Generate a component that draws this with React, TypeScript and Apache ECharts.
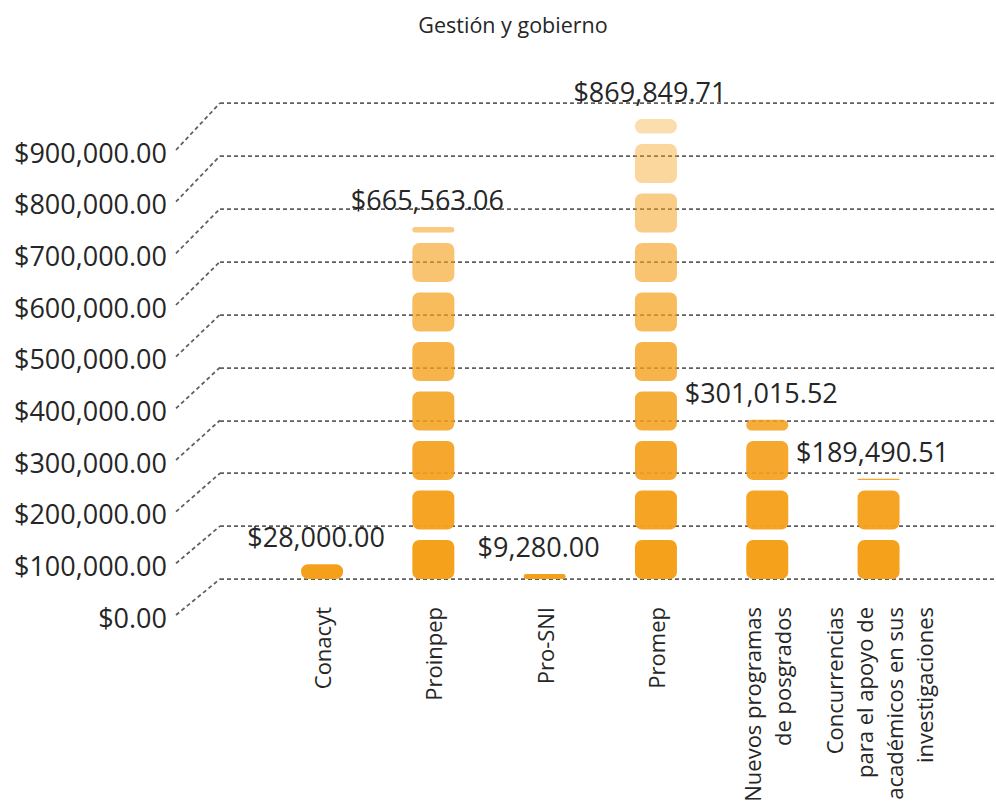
import React, { useEffect, useRef } from 'react';
import * as echarts from 'echarts';

const TITLE = 'Gestión y gobierno';
const categories = [
  'Conacyt',
  'Proinpep',
  'Pro-SNI',
  'Promep',
  'Nuevos programas\nde posgrados',
  'Concurrencias\npara el apoyo de\nacadémicos en sus\ninvestigaciones',
];
const amounts = [28000.0, 665563.06, 9280.0, 869849.71, 301015.52, 189490.51];
const axisMin = 0;
const axisMax = 900000;
const axisStep = 100000;

const FONT = "'Open Sans', 'Noto Sans', sans-serif";
const TEXT = '#262626';
const ORANGE = [245, 160, 26];
const BLOCK_W = 42;
const BLOCK_H = 39;
const BLOCK_PITCH = 49.5;
const BLOCK_R = 7;
const LABEL_DX = -6;
const LABEL_GAP = 14;

function money(v: number): string {
  return '$' + v.toLocaleString('en-US', { minimumFractionDigits: 2, maximumFractionDigits: 2 });
}

function renderBlocks(params: any, api: any) {
  const idx = api.value(0);
  const val = api.value(1);
  const base = api.coord([idx, 0]);
  const top = api.coord([idx, val])[1];
  const full = api.coord([idx, axisMax])[1];
  const x = base[0];
  const y0 = base[1];
  const children: any[] = [];
  for (let k = 0; k < 100; k++) {
    const bottom = y0 - k * BLOCK_PITCH;
    if (bottom <= top + 0.5) break;
    const t = Math.max(bottom - BLOCK_H, top);
    const h = bottom - t;
    const f = Math.min(1, Math.max(0, (y0 - (t + bottom) / 2) / (y0 - full)));
    const alpha = 1 - 0.7 * Math.pow(f, 1.5);
    children.push({
      type: 'rect',
      shape: { x: x - BLOCK_W / 2, y: t, width: BLOCK_W, height: h, r: Math.min(BLOCK_R, h / 2) },
      style: { fill: `rgba(${ORANGE[0]},${ORANGE[1]},${ORANGE[2]},${alpha.toFixed(3)})` },
    });
  }
  children.push({
    type: 'text',
    x: x + LABEL_DX,
    y: top - LABEL_GAP,
    style: {
      text: money(val),
      align: 'center',
      verticalAlign: 'bottom',
      fontSize: 27,
      fontFamily: FONT,
      fill: TEXT,
    },
  });
  return { type: 'group', children };
}

export default function App() {
  const ref = useRef<HTMLDivElement>(null);
  useEffect(() => {
    const chart = echarts.init(ref.current!, null, { renderer: 'svg' });
    const option: any = {
      animation: false,
      backgroundColor: '#ffffff',
      title: {
        text: TITLE,
        left: 508,
        top: 8,
        textAlign: 'center',
        textStyle: { fontFamily: FONT, fontSize: 21.5, fontWeight: 'normal', color: TEXT },
      },
      grid: [
        { left: 220, right: 1, top: 103, bottom: 229, outerBoundsMode: 'none' },
        { left: 266.4, right: 61.8, top: 103, bottom: 229, outerBoundsMode: 'none' },
        { left: 173, right: 813, top: 152, bottom: 191, outerBoundsMode: 'none' },
      ],
      xAxis: [
        { type: 'value', gridIndex: 0, show: false },
        {
          type: 'category',
          gridIndex: 1,
          data: categories,
          boundaryGap: true,
          axisLine: { show: false },
          axisTick: { show: false },
          axisLabel: {
            rotate: 90,
            interval: 0,
            margin: 28,
            fontSize: 22,
            lineHeight: 30,
            fontFamily: FONT,
            color: TEXT,
          },
        },
        { type: 'value', gridIndex: 2, show: false },
      ],
      yAxis: [
        {
          type: 'value',
          gridIndex: 0,
          min: axisMin,
          max: axisMax,
          interval: axisStep,
          axisLabel: { show: false },
          axisLine: { show: false },
          axisTick: { show: false },
          splitLine: { show: true, lineStyle: { color: '#5f5f5f', width: 1.75, type: [4, 3] } },
        },
        { type: 'value', gridIndex: 1, min: axisMin, max: axisMax, show: false },
        {
          type: 'value',
          gridIndex: 2,
          min: axisMin,
          max: axisMax,
          interval: axisStep,
          axisLine: { show: false },
          axisTick: { show: false },
          splitLine: { show: false },
          axisLabel: { formatter: (v: number) => money(v), fontSize: 27, fontFamily: FONT, color: TEXT, margin: 6 },
        },
      ],
      series: [
        {
          type: 'custom',
          xAxisIndex: 1,
          yAxisIndex: 1,
          renderItem: renderBlocks,
          encode: { x: 0, y: 1 },
          data: categories.map((c, i) => [i, amounts[i]]),
        },
      ],
    };
    chart.setOption(option);
    const ticks: number[] = [];
    for (let v = axisMin; v <= axisMax; v += axisStep) ticks.push(v);
    const lines = ticks.map((v) => {
      const gy = chart.convertToPixel({ yAxisIndex: 0 } as any, v) as unknown as number;
      const ly = chart.convertToPixel({ yAxisIndex: 2 } as any, v) as unknown as number;
      return {
        type: 'line',
        silent: true,
        shape: { x1: 176, y1: ly - 2, x2: 220, y2: gy },
        style: { stroke: '#5f5f5f', lineWidth: 1.75, lineDash: [4, 3] },
      };
    });
    chart.setOption({ graphic: lines });
    return () => chart.dispose();
  }, []);
  return <div ref={ref} style={{ position: 'fixed', left: 0, top: 0, width: 996, height: 808 }} />;
}
